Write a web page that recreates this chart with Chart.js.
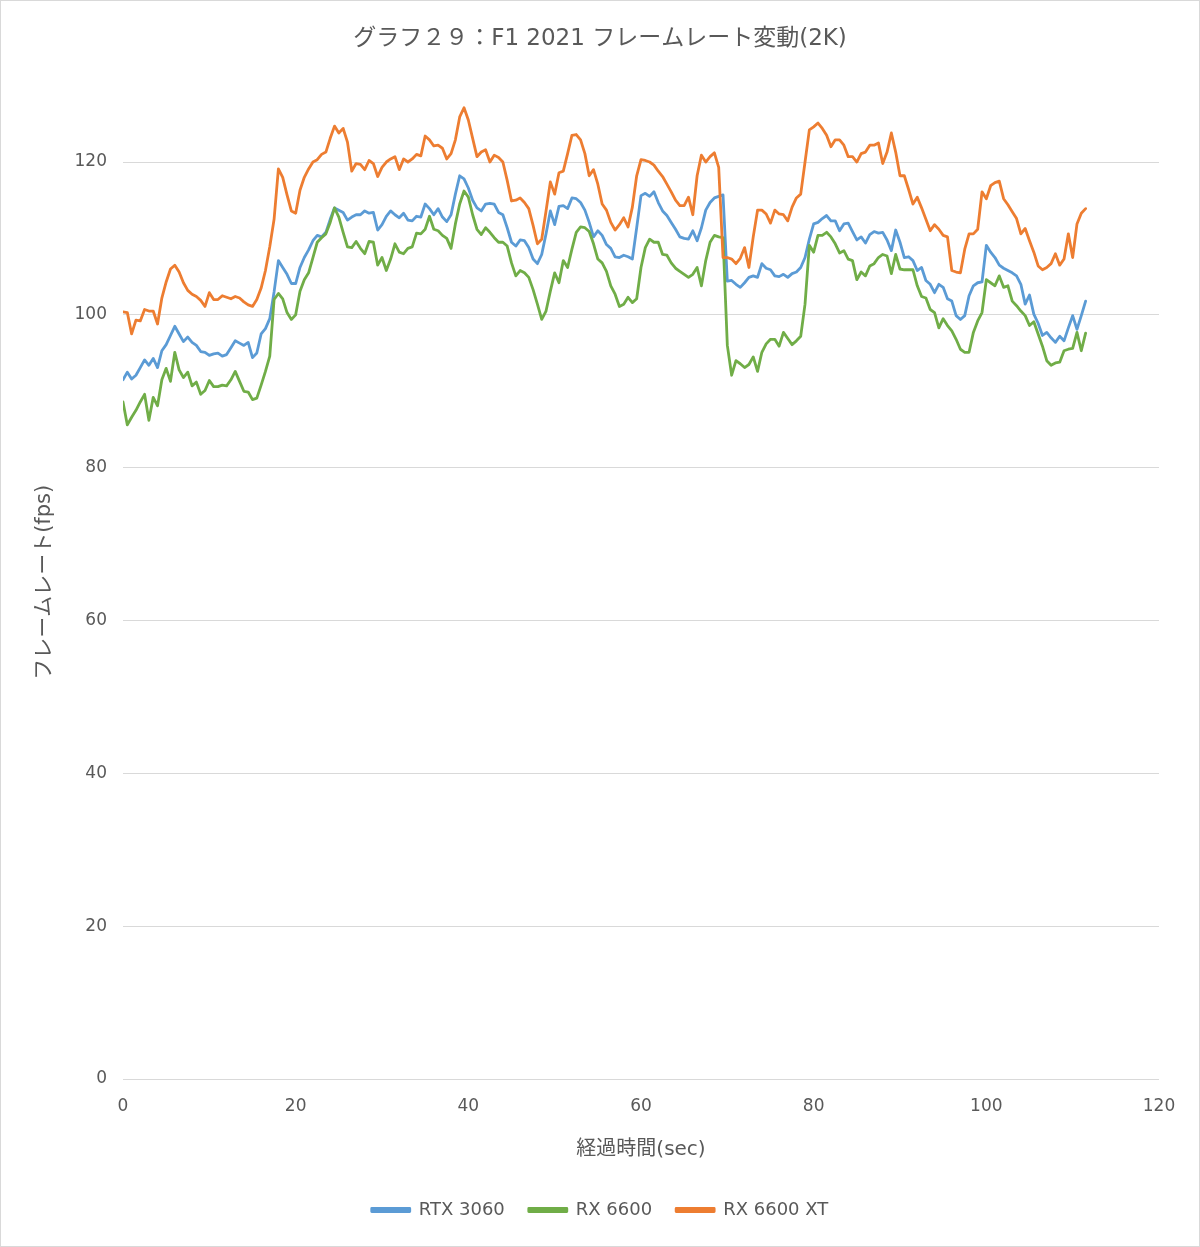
<!DOCTYPE html>
<html lang="ja">
<head>
<meta charset="UTF-8">
<title>F1 2021 フレームレート変動(2K)</title>
<script src="https://cdn.jsdelivr.net/npm/chart.js"></script>
<style>
    body {
        margin: 0;
        background: #fff;
    }
    #frame {
        position: absolute;
        left: 0;
        top: 0;
        width: 1200px;
        height: 1247px;
        box-sizing: border-box;
        border: 1px solid #d9d9d9;
        background: #fff;
    }
</style>
</head>
<body>
<div id="frame">
    <canvas id="fpsChart" width="1198" height="1245"></canvas>
</div>

<script>
    // 測定値 (0.5秒ごと, 0〜111.5秒)
    const seriesNames = ['RTX 3060', 'RX 6600', 'RX 6600 XT'];
    const xTicks = [0, 20, 40, 60, 80, 100, 120];
    const yTicks = [0, 20, 40, 60, 80, 100, 120];

    const rtx3060 = [
        91.5, 92.5, 91.6, 92.1, 93.1, 94.1, 93.4, 94.3, 93.1, 95.3,
        96.1, 97.3, 98.5, 97.5, 96.5, 97.1, 96.4, 96.0, 95.2, 95.1,
        94.7, 94.9, 95.0, 94.6, 94.8, 95.7, 96.6, 96.3, 96.0, 96.4,
        94.4, 95.0, 97.5, 98.2, 99.5, 103.0, 107.1, 106.2, 105.3, 104.1,
        104.1, 106.2, 107.5, 108.5, 109.7, 110.4,
        110.2, 110.8, 112.5, 114.0, 113.7, 113.4, 112.4, 112.8, 113.1, 113.1,
        113.6, 113.3, 113.4, 111.1, 111.8, 112.9, 113.6, 113.1, 112.7, 113.3,
        112.4, 112.3, 112.9, 112.8, 114.5, 113.9, 113.1, 113.9, 112.8, 112.2,
        113.1, 115.8, 118.2, 117.8, 116.6, 115.0, 114.0, 113.6, 114.5, 114.6,
        114.5, 113.4, 113.1, 111.4,
        109.5, 109.0, 109.8, 109.7, 108.8, 107.3, 106.7, 107.9, 110.6, 113.6,
        111.8, 114.2, 114.3, 113.9, 115.3, 115.2, 114.7, 113.7, 112.1, 110.2,
        111.0, 110.4, 109.2, 108.7, 107.6, 107.5, 107.8, 107.6, 107.3, 111.4,
        115.6, 115.9, 115.5, 116.1, 114.7, 113.6, 113.0, 112.1, 111.2, 110.2,
        110.0, 109.9, 111.0, 109.7, 111.4, 113.7, 114.7, 115.3, 115.5, 115.7,
        104.4,
        104.5, 104.0, 103.6, 104.2, 104.9, 105.1, 104.9, 106.7, 106.1, 105.9,
        105.1, 105.0, 105.3, 104.9, 105.4, 105.6, 106.2, 107.5, 109.9, 111.9,
        112.1, 112.6, 113.0, 112.3, 112.3, 111.0, 111.9, 112.0, 110.9, 109.8,
        110.2, 109.4, 110.5, 110.9, 110.7, 110.8, 109.8, 108.4, 111.1, 109.5,
        107.5, 107.6, 107.1, 105.8, 106.2, 104.5,
        104.0, 102.9, 104.0, 103.6, 102.1, 101.8, 99.9, 99.4, 99.9, 102.5,
        103.8, 104.2, 104.3, 109.1, 108.2, 107.5, 106.5, 106.1, 105.8, 105.5,
        105.1, 104.0, 101.4, 102.6, 100.1, 98.9, 97.3, 97.7, 97.0, 96.4,
        97.2, 96.6, 98.3, 99.9, 98.1, 99.9, 101.8
    ];

    const rx6600 = [
        88.6, 85.6, 86.6, 87.5, 88.6, 89.6, 86.2, 89.2, 88.1, 91.5,
        93.0, 91.3, 95.1, 92.8, 91.8, 92.5, 90.7, 91.2, 89.6, 90.1,
        91.4, 90.6, 90.6, 90.8, 90.7, 91.5, 92.6, 91.3, 90.0, 89.9,
        88.9, 89.1, 90.8, 92.6, 94.6, 102.0, 102.8, 102.1, 100.3, 99.4,
        100.0, 103.1, 104.6, 105.5, 107.5, 109.5,
        110.1, 110.6, 112.1, 114.0, 112.8, 110.8, 108.9, 108.8, 109.6, 108.7,
        108.0, 109.6, 109.5, 106.5, 107.5, 105.8, 107.3, 109.3, 108.2, 108.0,
        108.7, 108.9, 110.7, 110.6, 111.2, 112.9, 111.2, 111.0, 110.4, 110.0,
        108.7, 111.9, 114.5, 116.2, 115.4, 113.1, 111.2, 110.5, 111.4, 110.8,
        110.1, 109.5, 109.5, 109.0,
        106.8, 105.1, 105.8, 105.5, 104.9, 103.3, 101.4, 99.4, 100.5, 103.1,
        105.5, 104.2, 107.1, 106.2, 108.6, 110.8, 111.5, 111.4, 110.9, 109.3,
        107.3, 106.8, 105.7, 103.8, 102.7, 101.1, 101.4, 102.3, 101.6, 102.1,
        106.2, 108.8, 109.9, 109.5, 109.5, 107.9, 107.8, 106.8, 106.1, 105.7,
        105.3, 104.9, 105.3, 106.2, 103.8, 107.1, 109.5, 110.4, 110.2, 110.1,
        96.0,
        92.1, 94.0, 93.6, 93.1, 93.5, 94.5, 92.6, 95.1, 96.2, 96.8,
        96.8, 95.9, 97.7, 96.9, 96.1, 96.6, 97.2, 101.4, 109.1, 108.2,
        110.4, 110.4, 110.8, 110.2, 109.3, 108.1, 108.4, 107.3, 107.1, 104.6,
        105.6, 105.1, 106.4, 106.7, 107.5, 107.9, 107.7, 105.4, 107.9, 106.0,
        105.9, 105.9, 105.9, 103.8, 102.4, 102.2,
        100.7, 100.3, 98.3, 99.5, 98.6, 97.9, 96.8, 95.5, 95.1, 95.1,
        97.7, 99.2, 100.3, 104.6, 104.2, 103.8, 105.1, 103.6, 103.8, 101.8,
        101.2, 100.5, 99.9, 98.6, 99.1, 97.5, 95.9, 94.0, 93.4, 93.7,
        93.8, 95.3, 95.5, 95.6, 97.7, 95.3, 97.6
    ];

    const rx6600xt = [
        100.4, 100.3, 97.5, 99.3, 99.2, 100.7, 100.5, 100.5, 98.8, 102.2,
        104.3, 106.0, 106.5, 105.6, 104.2, 103.2, 102.7, 102.4, 101.9, 101.1,
        102.9, 102.0, 102.0, 102.5, 102.3, 102.1, 102.4, 102.2, 101.7, 101.3,
        101.1, 102.0, 103.5, 105.8, 108.9, 112.5, 119.1, 118.0, 115.7, 113.6,
        113.3, 116.3, 118.0, 119.1, 120.0, 120.3,
        121.0, 121.3, 123.1, 124.7, 123.8, 124.4, 122.6, 118.8, 119.8, 119.7,
        119.0, 120.2, 119.8, 118.1, 119.3, 120.0, 120.4, 120.7, 119.0, 120.4,
        120.0, 120.4, 121.0, 120.8, 123.4, 122.9, 122.1, 122.2, 121.8, 120.4,
        121.1, 122.9, 125.9, 127.1, 125.5, 123.1, 120.7, 121.3, 121.6, 120.0,
        120.9, 120.6, 120.0, 117.6,
        114.9, 115.0, 115.3, 114.7, 113.9, 111.7, 109.3, 109.9, 113.6, 117.4,
        115.8, 118.6, 118.8, 121.1, 123.5, 123.6, 122.9, 121.1, 118.2, 119.0,
        117.1, 114.5, 113.7, 112.1, 111.1, 111.8, 112.7, 111.5, 114.1, 118.2,
        120.3, 120.2, 120.0, 119.6, 118.8, 118.1, 117.1, 116.1, 115.0, 114.3,
        114.3, 115.4, 113.1, 118.2, 120.9, 120.0, 120.7, 121.2, 119.3, 107.5,
        107.5,
        107.3, 106.7, 107.4, 108.8, 106.2, 110.2, 113.7, 113.7, 113.2, 112.0,
        113.7, 113.2, 113.1, 112.3, 114.1, 115.3, 115.8, 120.0, 124.2, 124.6,
        125.1, 124.4, 123.5, 122.0, 122.9, 122.9, 122.2, 120.7, 120.7, 120.0,
        121.1, 121.3, 122.2, 122.2, 122.5, 119.8, 121.3, 123.8, 121.3, 118.2,
        118.2, 116.4, 114.5, 115.4, 114.0, 112.5,
        111.0, 111.8, 111.2, 110.4, 110.2, 105.8, 105.6, 105.5, 108.6, 110.6,
        110.6, 111.2, 116.1, 115.2, 116.9, 117.3, 117.5, 115.2, 114.4, 113.5,
        112.6, 110.6, 111.3, 109.7, 108.2, 106.4, 105.9, 106.2, 106.7, 108.0,
        106.5, 107.3, 110.6, 107.5, 111.9, 113.3, 113.9
    ];

    // 経過時間 (sec): 0.5秒刻み
    const times = Array.from({ length: rtx3060.length }, (_, i) => i * 0.5);

    function toPoints(values) {
        return values.map((v, i) => ({ x: times[i], y: v }));
    }

    const textColor = '#595959';
    const fontFamily = "'DejaVu Sans', 'Noto Sans CJK JP', sans-serif";
    const colors = ['#5b9bd5', '#70ad47', '#ed7d31'];

    function lineDataset(idx, values, order) {
        return {
            label: seriesNames[idx],
            data: toPoints(values),
            borderColor: colors[idx],
            backgroundColor: colors[idx],
            borderWidth: 2.8,
            borderJoinStyle: 'round',
            borderCapStyle: 'round',
            pointRadius: 0,
            tension: 0,
            order: order
        };
    }

    new Chart(document.getElementById('fpsChart'), {
        type: 'line',
        data: {
            datasets: [
                lineDataset(0, rtx3060, 3),
                lineDataset(1, rx6600, 2),
                lineDataset(2, rx6600xt, 1)
            ]
        },
        options: {
            responsive: false,
            animation: false,
            layout: {
                padding: { left: 40, right: 40, top: 0, bottom: 17 }
            },
            plugins: {
                title: {
                    display: true,
                    text: 'グラフ２９：F1 2021 フレームレート変動(2K)',
                    color: textColor,
                    font: { family: fontFamily, size: 23, weight: 'normal' },
                    padding: { top: 24, bottom: 33 }
                },
                legend: {
                    display: true,
                    position: 'bottom',
                    labels: {
                        color: textColor,
                        font: { family: fontFamily, size: 18 },
                        boxWidth: 38,
                        boxHeight: 3,
                        padding: 24,
                        sort: (a, b) => a.datasetIndex - b.datasetIndex
                    }
                },
                tooltip: { enabled: false }
            },
            scales: {
                x: {
                    type: 'linear',
                    min: 0,
                    max: 120,
                    afterFit: (scale) => { scale.height = 98; },
                    afterBuildTicks: (scale) => {
                        scale.ticks = xTicks.map(v => ({ value: v }));
                    },
                    grid: { display: false, drawTicks: false },
                    border: { display: false },
                    ticks: {
                        color: textColor,
                        font: { family: fontFamily, size: 17 },
                        padding: 17,
                        maxRotation: 0
                    },
                    title: {
                        display: true,
                        text: '経過時間(sec)',
                        color: textColor,
                        font: { family: fontFamily, size: 20 },
                        padding: { top: 0, bottom: 15 }
                    }
                },
                y: {
                    min: 0,
                    max: 130,
                    afterFit: (scale) => { scale.width = 82; },
                    afterBuildTicks: (scale) => {
                        scale.ticks = yTicks.map(v => ({ value: v }));
                    },
                    grid: {
                        color: '#d9d9d9',
                        lineWidth: 1,
                        drawTicks: false
                    },
                    border: { display: false },
                    ticks: {
                        color: textColor,
                        font: { family: fontFamily, size: 17 },
                        padding: 16
                    },
                    title: {
                        display: true,
                        text: 'フレームレート(fps)',
                        color: textColor,
                        font: { family: fontFamily, size: 21 },
                        padding: { top: -8.6, bottom: 0 }
                    }
                }
            }
        }
    });
</script>
</body>
</html>
